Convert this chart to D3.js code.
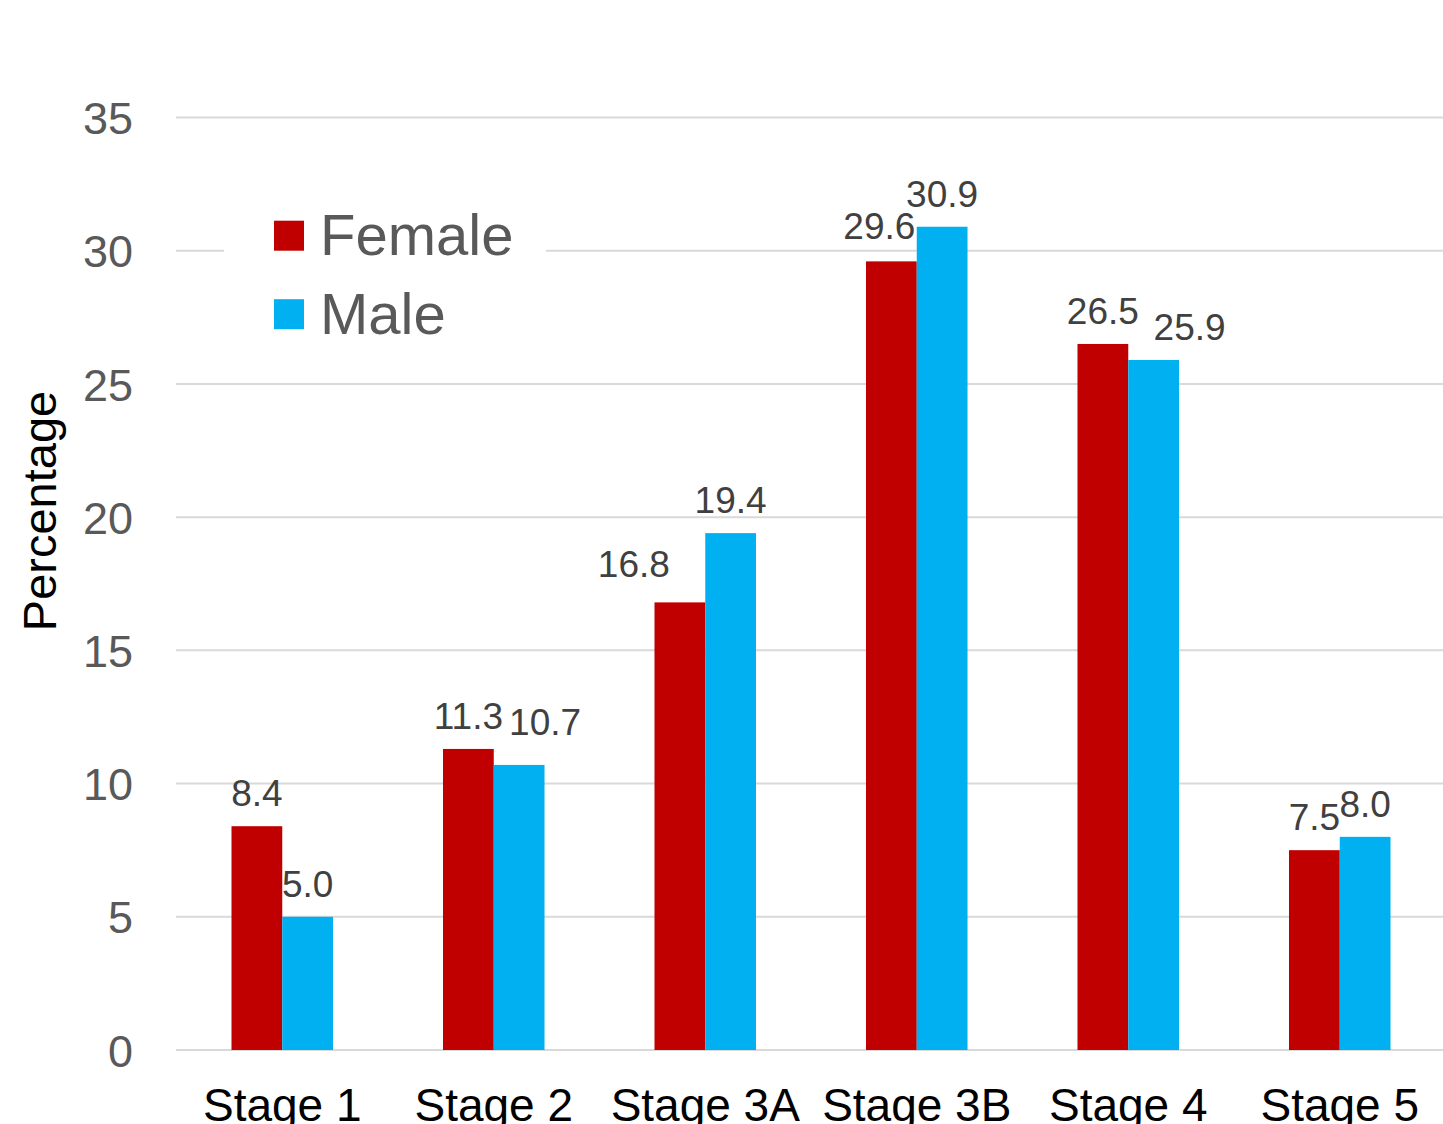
<!DOCTYPE html>
<html>
<head>
<meta charset="utf-8">
<script src="https://cdn.jsdelivr.net/npm/d3@7"></script>
<style>
  html, body { margin: 0; padding: 0; background: #fff; overflow: hidden; }
  svg { display: block; font-family: "Liberation Sans", Arial, sans-serif; }
</style>
</head>
<body>
<svg id="chart" width="1443" height="1124"></svg>
<script>
// Stage distribution by sex (percent)
const stages = ["Stage 1", "Stage 2", "Stage 3A", "Stage 3B", "Stage 4", "Stage 5"];
const female = [8.4, 11.3, 16.8, 29.6, 26.5, 7.5];
const male = [5.0, 10.7, 19.4, 30.9, 25.9, 8.0];
const seriesNames = ["Female", "Male"];
const yTicks = [0, 5, 10, 15, 20, 25, 30, 35];

const colors = { Female: "#C00000", Male: "#00B0F0" };

// Small nudges for value labels that would otherwise collide
const labelNudge = {
  "Stage 2|Male": [26, -10],
  "Stage 3A|Female": [-46, -5],
  "Stage 3B|Female": [-12, -2],
  "Stage 4|Male": [36, 0]
};

const svg = d3.select("#chart");
const plotLeft = 176, plotRight = 1443, plotTop = 117.5, plotBottom = 1050;

const x = d3.scaleBand().domain(stages).range([plotLeft + 0.5, plotRight + 2.5])
  .paddingInner(0.52).paddingOuter(0.26);
const x1 = d3.scaleBand().domain(seriesNames).range([0, x.bandwidth()]);
const y = d3.scaleLinear().domain([0, 35]).range([plotBottom, plotTop]);

// Gridlines
svg.append("g")
  .selectAll("line")
  .data(yTicks)
  .join("line")
  .attr("x1", plotLeft).attr("x2", plotRight)
  .attr("y1", d => y(d)).attr("y2", d => y(d))
  .attr("stroke", "#D9D9D9").attr("stroke-width", 2);

// Y tick labels
const yAxis = d3.axisLeft(y).tickValues(yTicks).tickSize(0).tickPadding(0);
const gy = svg.append("g").attr("transform", `translate(133,0)`).call(yAxis);
gy.select(".domain").remove();
gy.selectAll("text")
  .attr("font-size", 45)
  .attr("fill", "#595959")
  .attr("font-family", "Liberation Sans, Arial, sans-serif")
  .attr("dy", "0.36em");

// Y axis title
svg.append("text")
  .attr("transform", `translate(56,511) rotate(-90)`)
  .attr("text-anchor", "middle")
  .attr("font-size", 47)
  .attr("fill", "#000")
  .text("Percentage");

// Bars
const rows = stages.map((s, i) => ({ stage: s, values: [
  { key: "Female", value: female[i] },
  { key: "Male", value: male[i] }
]}));

const groups = svg.append("g").selectAll("g")
  .data(rows).join("g")
  .attr("transform", d => `translate(${x(d.stage)},0)`);

groups.selectAll("rect")
  .data(d => d.values)
  .join("rect")
  .attr("x", d => x1(d.key))
  .attr("width", x1.bandwidth())
  .attr("y", d => y(d.value))
  .attr("height", d => y(0) - y(d.value))
  .attr("fill", d => colors[d.key]);

// Value labels
const nudge = d => labelNudge[d.stage + "|" + d.key] || [0, 0];
groups.selectAll("text")
  .data(d => d.values.map(v => ({ ...v, stage: d.stage })))
  .join("text")
  .attr("x", d => x1(d.key) + x1.bandwidth() / 2 + nudge(d)[0])
  .attr("y", d => y(d.value) - 20 + nudge(d)[1])
  .attr("text-anchor", "middle")
  .attr("font-size", 37)
  .attr("fill", "#404040")
  .text(d => d.value.toFixed(1));

// X axis labels
const xAxis = d3.axisBottom(x).tickSize(0).tickPadding(0);
const gx = svg.append("g").attr("transform", `translate(0,1121)`).call(xAxis);
gx.select(".domain").remove();
gx.selectAll("text")
  .attr("font-size", 46)
  .attr("fill", "#000")
  .attr("font-family", "Liberation Sans, Arial, sans-serif")
  .attr("y", 0)
  .attr("dy", 0);

// Legend
const legend = svg.append("g");
legend.append("rect")
  .attr("x", 224).attr("y", 200).attr("width", 322).attr("height", 150)
  .attr("fill", "#fff");
const items = legend.selectAll("g.item")
  .data(seriesNames).join("g").attr("class", "item")
  .attr("transform", (d, i) => `translate(274,${220.7 + i * 78.5})`);
items.append("rect")
  .attr("width", 30).attr("height", 30)
  .attr("fill", d => colors[d]);
items.append("text")
  .attr("x", 46).attr("y", 34.5)
  .attr("font-size", 58)
  .attr("fill", "#595959")
  .text(d => d);
</script>
</body>
</html>
